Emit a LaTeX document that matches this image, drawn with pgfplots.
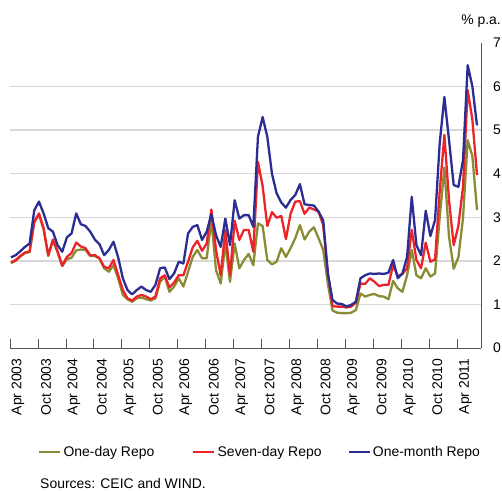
\documentclass[border=0pt]{standalone}
\usepackage{pgfplots}
\pgfplotsset{compat=1.18}
\usepackage{pgfplotstable}
\usepackage{fontspec}
\setmainfont{Liberation Sans}
\definecolor{cgreen}{RGB}{138,140,52}
\definecolor{cred}{RGB}{236,36,42}
\definecolor{cblue}{RGB}{42,46,146}
\definecolor{cgrid}{RGB}{216,216,220}
\definecolor{caxis}{RGB}{85,85,85}
\newcommand\cf{\fontsize{14}{16}\selectfont}
\pgfplotstableread{
m one seven month
0 1.95 1.96 2.08
1 2.00 2.02 2.13
2 2.10 2.11 2.22
3 2.18 2.19 2.32
4 2.20 2.22 2.40
5 2.88 2.90 3.16
6 3.06 3.09 3.36
7 2.72 2.75 3.09
8 2.11 2.13 2.75
9 2.46 2.49 2.67
10 2.20 2.22 2.36
11 1.88 1.89 2.21
12 2.04 2.09 2.54
13 2.07 2.18 2.63
14 2.24 2.42 3.09
15 2.26 2.33 2.84
16 2.25 2.29 2.80
17 2.11 2.13 2.67
18 2.11 2.13 2.49
19 2.05 2.06 2.38
20 1.83 1.86 2.13
21 1.75 1.83 2.25
22 1.90 2.02 2.44
23 1.60 1.67 2.08
24 1.22 1.33 1.60
25 1.12 1.14 1.33
26 1.06 1.09 1.23
27 1.14 1.18 1.33
28 1.16 1.22 1.41
29 1.12 1.18 1.33
30 1.09 1.12 1.29
31 1.14 1.18 1.45
32 1.52 1.60 1.83
33 1.64 1.67 1.85
34 1.29 1.39 1.58
35 1.41 1.50 1.71
36 1.60 1.67 1.98
37 1.41 1.67 1.94
38 1.75 1.98 2.63
39 2.09 2.31 2.78
40 2.25 2.46 2.82
41 2.06 2.23 2.48
42 2.06 2.40 2.67
43 2.94 3.18 3.07
44 1.79 2.25 2.59
45 1.48 1.67 2.32
46 2.40 2.71 2.97
47 1.52 1.67 2.36
48 2.40 2.92 3.39
49 1.83 2.48 2.97
50 2.02 2.71 3.05
51 2.16 2.71 3.05
52 1.90 2.21 2.78
53 2.86 4.27 4.85
54 2.80 3.72 5.30
55 2.02 2.80 4.85
56 1.92 3.12 4.00
57 1.98 2.99 3.55
58 2.29 3.03 3.34
59 2.09 2.50 3.22
60 2.29 3.08 3.40
61 2.52 3.36 3.51
62 2.82 3.37 3.76
63 2.49 3.08 3.30
64 2.67 3.22 3.28
65 2.77 3.18 3.27
66 2.52 3.13 3.13
67 2.25 2.82 2.93
68 1.48 1.72 1.71
69 0.86 0.96 1.10
70 0.81 0.95 1.02
71 0.80 0.95 1.01
72 0.80 0.93 0.95
73 0.81 0.95 0.99
74 0.87 1.04 1.06
75 1.25 1.48 1.60
76 1.18 1.47 1.67
77 1.22 1.60 1.71
78 1.24 1.52 1.70
79 1.19 1.42 1.71
80 1.18 1.45 1.70
81 1.12 1.45 1.73
82 1.54 1.90 2.02
83 1.37 1.65 1.60
84 1.29 1.70 1.71
85 1.67 1.83 2.09
86 2.25 2.71 3.47
87 1.67 2.02 2.36
88 1.60 1.83 2.13
89 1.83 2.42 3.15
90 1.64 1.98 2.57
91 1.71 2.03 2.94
92 3.00 3.60 4.70
93 4.14 4.89 5.76
94 2.55 3.39 4.77
95 1.82 2.36 3.74
96 2.08 2.80 3.70
97 2.98 3.70 4.31
98 4.77 5.92 6.49
99 4.41 5.25 6.01
100 3.17 3.97 5.11
}\repo
\begin{document}
\begin{tikzpicture}
\useasboundingbox (-10bp,-143bp) rectangle (492bp,348bp);
\begin{axis}[
  scale only axis, width=471bp, height=305bp,
  xmin=0, xmax=101.07, ymin=0, ymax=7,
  /pgf/number format/assume math mode=true,
  axis x line*=bottom, axis y line*=right,
  axis line style={caxis, line width=0.8bp},
  xtick={0,6,...,96},
  xticklabels={Apr 2003,Oct 2003,Apr 2004,Oct 2004,Apr 2005,Oct 2005,Apr 2006,Oct 2006,Apr 2007,Oct 2007,Apr 2008,Oct 2008,Apr 2009,Oct 2009,Apr 2010,Oct 2010,Apr 2011},
  xtick align=inside,
  x tick style={caxis, line width=0.8bp},
  major tick length=9bp,
  ytick={0,...,7},
  y tick style={draw=none},
  extra y ticks={1,...,6}, extra y tick labels={},
  extra y tick style={ymajorgrids=true},
  major grid style={cgrid, line width=1.4bp},
  yticklabel style={font=\cf, anchor=west, xshift=8.5bp},
  xticklabel style={font=\cf, xshift=8bp, yshift=-7bp, rotate=90, anchor=east},
  legend style={draw=none, fill=none, inner sep=0pt, at={(0.0594,-0.341)}, anchor=west, legend columns=3, font=\cf,
    nodes={inner sep=2bp},
    /tikz/column 2/.style={column sep=36bp},
    /tikz/column 4/.style={column sep=24bp}},
  legend image code/.code={\draw[#1, line width=2.4bp] (0bp,0bp) -- (21bp,0bp);},
  every axis plot/.append style={line width=2.3bp, line join=round},
]
\addplot[cgreen] table[x expr=\thisrow{m}+0.21, y=one] {\repo};
\addlegendentry{One-day Repo}
\addplot[cred] table[x expr=\thisrow{m}+0.21, y=seven] {\repo};
\addlegendentry{Seven-day Repo}
\addplot[cblue] table[x expr=\thisrow{m}+0.21, y=month] {\repo};
\addlegendentry{One-month Repo}
\end{axis}
\node[anchor=base east, inner sep=0pt, font=\cf] at (491bp,323.5bp) {\% p.a.};
\node[anchor=west, inner sep=0pt, font=\cf] at (30bp,-136bp) {Sources: CEIC and WIND.};
\end{tikzpicture}
\end{document}
